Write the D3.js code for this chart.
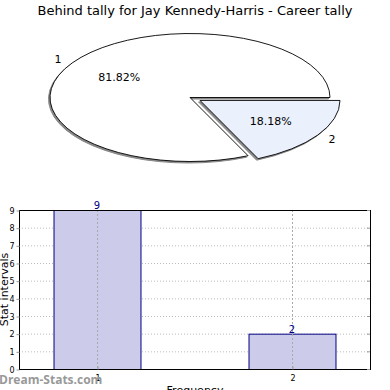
<!DOCTYPE html>
<html><head><meta charset="utf-8">
<script src="https://cdn.jsdelivr.net/npm/d3@7"></script>
<style>body{margin:0;background:#fff}svg{display:block;font-family:"DejaVu Sans",sans-serif}</style>
</head><body>
<svg id="c" width="390" height="390"></svg>
<script>
const title = "Behind tally for Jay Kennedy-Harris - Career tally";
const categories = ["1", "2"];
const values = [9, 2];
const percentLabels = ["81.82%", "18.18%"];
const sliceColors = ["#ffffff", "#eaf0fc"];
const yTicks = [0,1,2,3,4,5,6,7,8,9];

const svg = d3.select("#c");
svg.append("text").attr("x",195).attr("y",15).attr("text-anchor","middle")
  .attr("font-size",13).text(title);

// ---- Pie ----
const cx = 190, cy = 97.5, rx = 140, ry = 64;
const total = d3.sum(values);
const start = Math.PI/2 + 2*Math.PI*(values[1]/total);
const pie = d3.pie().sort(null).startAngle(start).endAngle(start + 2*Math.PI);
const arcs = pie(values);
const arc = d3.arc().innerRadius(0).outerRadius(1);
const explode = [0, 0.085];
const pieG = svg.append("g");
arcs.forEach((a, i) => {
  const mid = (a.startAngle + a.endAngle)/2;
  const ux = Math.sin(mid), uy = -Math.cos(mid);
  const ox = cx + rx*explode[i]*ux, oy = cy + ry*explode[i]*uy;
  // shadow
  pieG.append("path").attr("d", arc(a))
    .attr("transform", `translate(${ox-1.5},${oy+1.5}) scale(${rx},${ry})`)
    .attr("fill","#888").attr("stroke","#888").attr("stroke-width",1)
    .attr("vector-effect","non-scaling-stroke");
  pieG.append("path").attr("d", arc(a))
    .attr("transform", `translate(${ox},${oy}) scale(${rx},${ry})`)
    .attr("fill", sliceColors[i]).attr("stroke","#000").attr("stroke-width",0.9)
    .attr("vector-effect","non-scaling-stroke");
  a._o = [ox, oy, ux, uy];
});
arcs.forEach((a, i) => {
  const [ox, oy, ux, uy] = a._o;
  pieG.append("text").attr("x", ox + rx*0.6*ux).attr("y", oy + ry*0.6*uy + 4)
    .attr("text-anchor","middle").attr("font-size",11).text(percentLabels[i]);
  pieG.append("text").attr("x", ox + rx*1.12*ux).attr("y", oy + ry*1.12*uy + 4)
    .attr("text-anchor","middle").attr("font-size",11).text(categories[i]);
});

// ---- Bars ----
const L = 19, R = 370, T = 210, B = 369;
const x = d3.scaleLinear().domain([0.6, 2.4]).range([L, R]);
const y = d3.scaleLinear().domain([0, 9]).range([B, T]);
const barW = 0.446;
const g = svg.append("g");

// horizontal grid
g.selectAll(".hg").data(yTicks.slice(1)).enter().append("line")
  .attr("x1", L).attr("x2", R).attr("y1", d=>y(d)+0.5).attr("y2", d=>y(d)+0.5)
  .attr("stroke","#bbb").attr("stroke-width",1).attr("stroke-dasharray","1,2");

g.selectAll(".bar").data(values).enter().append("rect")
  .attr("x", (d,i)=>x(+categories[i]-barW/2)+0.5)
  .attr("width", (d,i)=>x(+categories[i]+barW/2)-x(+categories[i]-barW/2))
  .attr("y", d=>y(d)+0.5).attr("height", d=>B-y(d))
  .attr("fill","#ccccea").attr("stroke","#000080").attr("stroke-width",1);

// vertical grid
g.selectAll(".vg").data(categories).enter().append("line")
  .attr("x1", d=>x(+d)+0.5).attr("x2", d=>x(+d)+0.5).attr("y1", T).attr("y2", B)
  .attr("stroke","#aaa").attr("stroke-width",1).attr("stroke-dasharray","2,2");

// value labels
g.selectAll(".vl").data(values).enter().append("text")
  .attr("x", (d,i)=>x(+categories[i])).attr("y", d=>y(d)-1)
  .attr("text-anchor","middle").attr("font-size",10).attr("fill","#000080").text(d=>d);

// frame
g.append("rect").attr("x",L+0.5).attr("y",T+0.5).attr("width",R-L).attr("height",B-T)
  .attr("fill","none").attr("stroke","#000").attr("stroke-width",1);

// right ticks
g.selectAll(".rt").data(yTicks).enter().append("line")
  .attr("x1",R-3).attr("x2",R).attr("y1",d=>y(d)+0.5).attr("y2",d=>y(d)+0.5)
  .attr("stroke","#999");

// axes
const yAxis = d3.axisLeft(y).tickValues(yTicks).tickSize(3).tickPadding(2);
const ya = svg.append("g").attr("transform",`translate(${L+0.5},0.5)`).call(yAxis);
ya.select(".domain").remove();
ya.selectAll("text").attr("font-size",8).attr("font-family","DejaVu Sans, sans-serif");
ya.selectAll("line").attr("stroke","#999");

const xAxis = d3.axisBottom(x).tickValues(categories.map(Number)).tickFormat(d3.format("d")).tickSize(-3).tickPadding(6);
const xa = svg.append("g").attr("transform",`translate(0.5,${B+0.5})`).call(xAxis);
xa.select(".domain").remove();
xa.selectAll("text").attr("font-size",8).attr("font-family","DejaVu Sans, sans-serif");
xa.selectAll("line").attr("stroke","#999");

svg.append("text").attr("transform",`translate(8,${(T+B)/2}) rotate(-90)`)
  .attr("text-anchor","middle").attr("font-size",11).text("Stat intervals");
svg.append("text").attr("x",195).attr("y",394).attr("text-anchor","middle")
  .attr("font-size",11).text("Frequency");

svg.append("text").attr("x",-1).attr("y",384).attr("font-size",12).attr("font-weight","bold")
  .attr("fill","#999").attr("font-family","Open Sans, sans-serif").text("Dream-Stats.com");
</script>
</body></html>
